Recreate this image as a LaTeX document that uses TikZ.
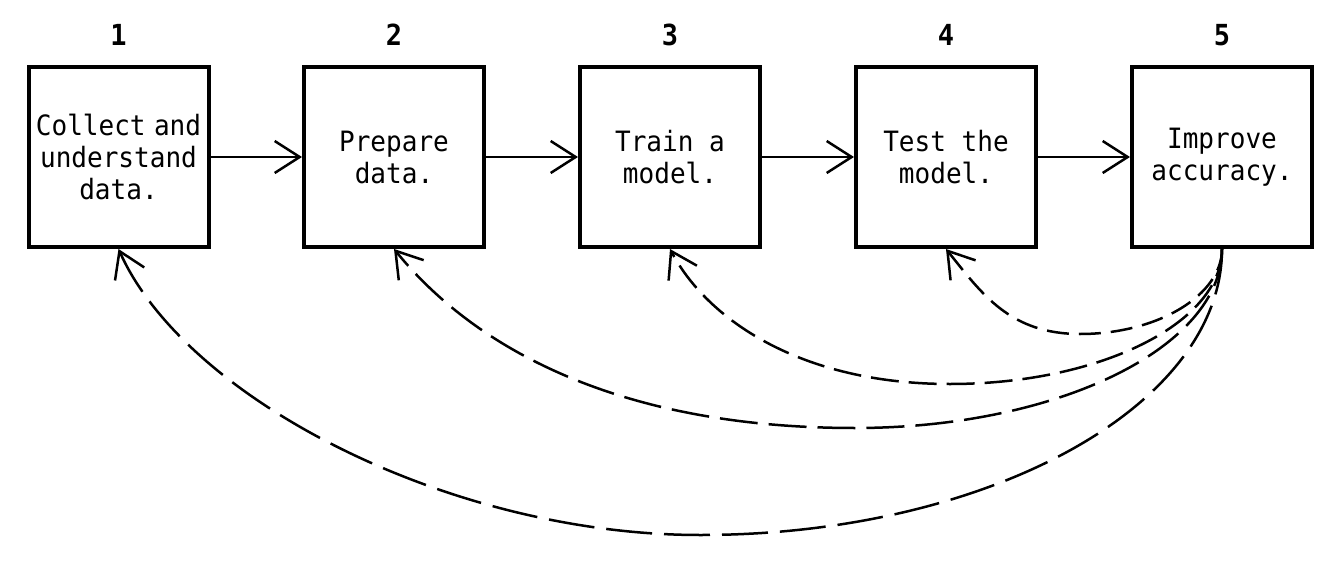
\documentclass[tikz,border=0pt]{standalone}
\usepackage{fontspec}
\newfontfamily\handfont[FakeStretch=0.93]{DejaVu Sans Mono}
\usetikzlibrary{arrows.meta}
\begin{document}
\begin{tikzpicture}[x=0.5pt,y=-0.5pt,
  stagebox/.style={draw, line width=2pt, minimum width=90pt, minimum height=90pt,
    inner sep=0pt, align=center, font=\handfont\fontsize{14}{16}\selectfont},
  numlabel/.style={font=\handfont\bfseries\fontsize{14.5}{16}\selectfont},
  flow/.style={line width=1.25pt, -{Straight Barb[length=12.5pt,width=16pt]}},
]
\fill[white] (0,0) rectangle (1340,562);
\useasboundingbox (0,0) rectangle (1340,562);

\node[stagebox] (b1) at (118.5,157) {Collect\hspace{0.3em}and\\understand\\data.};
\node[stagebox] (b2) at (394,157) {Prepare\\data.};
\node[stagebox] (b3) at (670,157) {Train a\\model.};
\node[stagebox] (b4) at (946,157) {Test the\\model.};
\node[stagebox] (b5) at (1222,157) {Improve\\accuracy.};

\node[numlabel] (n1) at (118.5,35) {1};
\node[numlabel] (n2) at (394,35) {2};
\node[numlabel] (n3) at (670,35) {3};
\node[numlabel] (n4) at (946,35) {4};
\node[numlabel] (n5) at (1222,35) {5};

\draw[flow] (b1.east) -- (b2.west);
\draw[flow] (b2.east) -- (b3.west);
\draw[flow] (b3.east) -- (b4.west);
\draw[flow] (b4.east) -- (b5.west);

\coordinate (m1) at (700,535);
\coordinate (m2) at (855,428);
\coordinate (m3) at (950,384);
\coordinate (m4) at (1080,334);

\draw[flow, dash pattern=on 23pt off 6pt] (b5.south) .. controls +(0,157) and +(288,0) .. (m1)
  .. controls +(-250,0) and +(67,150) .. (b1.south);
\draw[flow, dash pattern=on 19pt off 5.5pt] (b5.south) .. controls +(0,98) and +(203,0) .. (m2)
  .. controls +(-250,0) and +(73,90) .. (b2.south);
\draw[flow, dash pattern=on 14pt off 5pt] (b5.south) .. controls +(0,74) and +(150,0) .. (m3)
  .. controls +(-150,0) and +(37,70) .. (b3.south);
\draw[flow, dash pattern=on 11pt off 5pt] (b5.south) .. controls +(0,46) and +(78,0) .. (m4)
  .. controls +(-70,0) and +(36,45) .. (b4.south);
\end{tikzpicture}
\end{document}
